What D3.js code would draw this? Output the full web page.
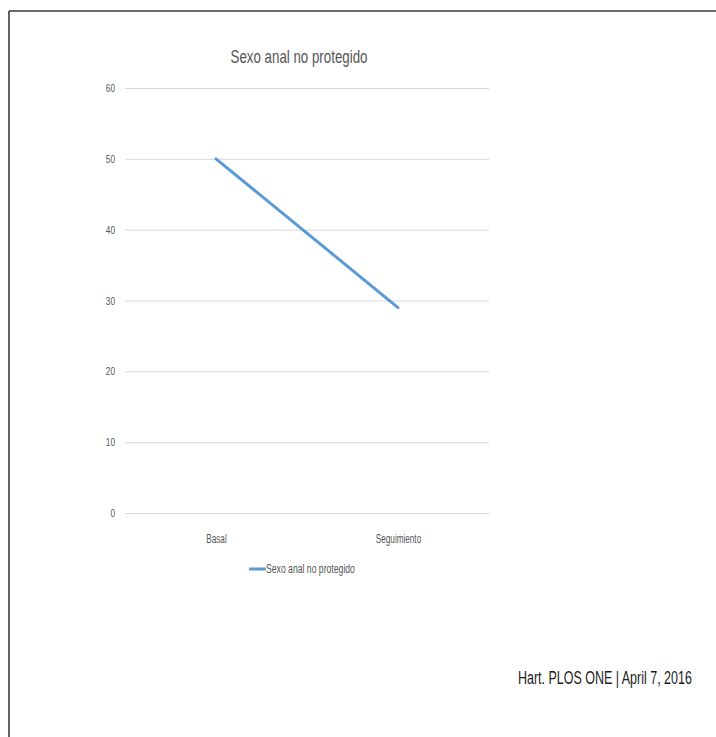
<!DOCTYPE html>
<html>
<head>
<meta charset="utf-8">
<script src="https://cdn.jsdelivr.net/npm/d3@7"></script>
<style>
  html, body { margin: 0; padding: 0; background: #fff; }
  svg { display: block; }
  text { font-family: "Liberation Sans", Arial, sans-serif; }
</style>
</head>
<body>
<script>
// Chart data
const title = "Sexo anal no protegido";
const categories = ["Basal", "Seguimiento"];
const seriesName = "Sexo anal no protegido";
const seriesValues = [50, 29];
const yTicks = [0, 10, 20, 30, 40, 50, 60];
const footer = "Hart. PLOS ONE | April 7, 2016";

const W = 716, H = 737;
const svg = d3.select("body").append("svg").attr("width", W).attr("height", H);

// Narrow a text element horizontally (k < 1) keeping its anchor point in place
function squeeze(sel, k) {
  sel.each(function () {
    const t = d3.select(this);
    const x0 = +(t.attr("x") || 0);
    t.attr("x", x0 / k).attr("transform", `scale(${k},1)`);
  });
}
// Narrow a text element so that it spans the given width
function fitWidth(sel, width) {
  sel.each(function () {
    const w = this.getComputedTextLength();
    d3.select(this).call(squeeze, width / w);
  });
}

// Page frame (top and left edges)
svg.append("line").attr("x1", 9).attr("x2", W).attr("y1", 11).attr("y2", 11)
  .attr("stroke", "#3a3a3a").attr("stroke-width", 1.6);
svg.append("line").attr("x1", 9).attr("x2", 9).attr("y1", 11).attr("y2", H)
  .attr("stroke", "#3a3a3a").attr("stroke-width", 1.6);

// Scales
const x = d3.scalePoint().domain(categories).range([125, 489]).padding(0.5);
const y = d3.scaleLinear().domain([0, 60]).range([513, 88]);

// Horizontal gridlines via the y axis
const yAxis = svg.append("g").attr("transform", "translate(125,0)")
  .call(d3.axisLeft(y).tickValues(yTicks).tickSize(-364).tickPadding(10).tickFormat(d3.format("d")));
yAxis.select(".domain").remove();
yAxis.selectAll(".tick line").attr("stroke", "#d9d9d9").attr("stroke-width", 1);
yAxis.selectAll(".tick text").attr("fill", "#555").attr("font-size", 11)
  .attr("font-family", "'Liberation Sans', Arial, sans-serif").call(squeeze, 0.75);

// Category labels via the x axis
const xAxis = svg.append("g").attr("transform", "translate(0,513)")
  .call(d3.axisBottom(x).tickSize(0).tickPadding(21));
xAxis.select(".domain").remove();
xAxis.selectAll(".tick text").attr("fill", "#555").attr("font-size", 12)
  .attr("font-family", "'Liberation Sans', Arial, sans-serif").call(squeeze, 0.68);

// Series line
const line = d3.line().x((d, i) => x(categories[i])).y(d => y(d));
svg.append("path").datum(seriesValues).attr("d", line)
  .attr("fill", "none").attr("stroke", "#5b9bd5").attr("stroke-width", 3)
  .attr("stroke-linecap", "round");

// Title
svg.append("text").attr("x", 299).attr("y", 63).attr("text-anchor", "middle")
  .attr("font-size", 18).attr("fill", "#555").text(title).call(fitWidth, 137);

// Legend
svg.append("line").attr("x1", 249).attr("x2", 266).attr("y1", 569).attr("y2", 569)
  .attr("stroke", "#5b9bd5").attr("stroke-width", 3);
svg.append("text").attr("x", 266).attr("y", 573.5).attr("font-size", 12)
  .attr("fill", "#555").text(seriesName).call(fitWidth, 89);

// Citation
svg.append("text").attr("x", 518).attr("y", 684).attr("font-size", 17.5)
  .attr("fill", "#1c1c1c").text(footer).call(fitWidth, 174);
</script>
</body>
</html>
